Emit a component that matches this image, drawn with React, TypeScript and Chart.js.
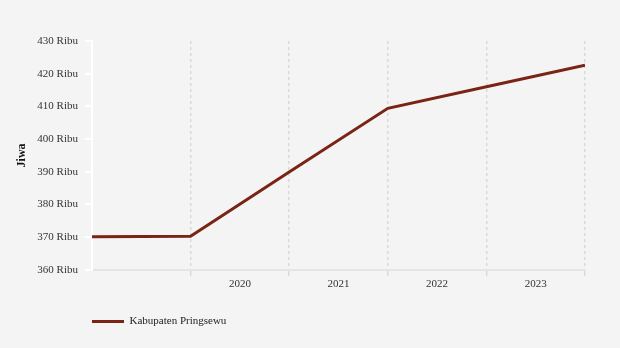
import React, { useEffect, useRef } from "react";
import { Chart, registerables } from "chart.js";

Chart.register(...registerables);

const seriesName = "Kabupaten Pringsewu";
const xPositions = [2019, 2020, 2021, 2022, 2023, 2024];
const values = [370.1, 370.3, 389.9, 409.4, 416.0, 422.6];
const yTicks = [360, 370, 380, 390, 400, 410, 420, 430];
const yearLabels: Record<string, string> = {
  "2020.5": "2020",
  "2021.5": "2021",
  "2022.5": "2022",
  "2023.5": "2023",
};

const FONT = "'Liberation Serif', 'Times New Roman', serif";

const legendShift = {
  id: "legendShift",
  afterLayout(chart: any) {
    if (chart.legend) {
      chart.legend.left = 82;
    }
  },
};

export default function App() {
  const ref = useRef<HTMLCanvasElement | null>(null);

  useEffect(() => {
    document.body.style.margin = "0";
    document.body.style.background = "#f4f4f4";
    const canvas = ref.current!;
    const chart = new Chart(canvas, {
      type: "line",
      data: {
        datasets: [
          {
            label: seriesName,
            data: xPositions.map((x, i) => ({ x, y: values[i] })),
            borderColor: "#7a2416",
            backgroundColor: "#7a2416",
            borderWidth: 3,
            pointRadius: 0,
            pointHoverRadius: 0,
            tension: 0,
            fill: false,
          },
        ],
      },
      options: {
        responsive: false,
        animation: false,
        maintainAspectRatio: false,
        layout: { padding: { top: 41, right: 35, left: 11, bottom: 11 } },
        plugins: {
          tooltip: { enabled: false },
          legend: {
            position: "bottom",
            align: "start",
            labels: {
              boxWidth: 32,
              boxHeight: 0,
              color: "#222",
              font: { family: FONT, size: 11 },
              padding: 10,
            },
          },
        },
        scales: {
          x: {
            type: "linear",
            min: 2019,
            max: 2024,
            afterBuildTicks: (scale: any) => {
              const t = [];
              for (let v = 2019; v <= 2024.001; v += 0.5) t.push({ value: v });
              scale.ticks = t;
            },
            afterFit: (scale: any) => {
              scale.height += 13;
            },
            ticks: {
              autoSkip: false,
              maxRotation: 0,
              color: "#333",
              padding: 2,
              font: { family: FONT, size: 11 },
              callback: (v: any) => yearLabels[String(v)] ?? "",
            },
            grid: {
              color: (ctx: any) =>
                ctx.tick && Number.isInteger(ctx.tick.value) && ctx.tick.value !== 2019
                  ? "#d9d9d9"
                  : "rgba(0,0,0,0)",
              lineWidth: 1.5,
              tickLength: 6,
              drawOnChartArea: true,
            },
            border: { display: true, color: "#e4e4e4", width: 2, dash: [3, 3] },
          },
          y: {
            type: "linear",
            min: 360,
            max: 430,
            afterBuildTicks: (scale: any) => {
              scale.ticks = yTicks.map((v) => ({ value: v }));
            },
            afterFit: (scale: any) => {
              scale.width = 81;
            },
            ticks: {
              color: "#333",
              padding: 7,
              font: { family: FONT, size: 11 },
              callback: (v: any) => `${v} Ribu`,
            },
            grid: {
              drawOnChartArea: false,
              color: "#ffffff",
              lineWidth: 2,
              tickLength: 7,
            },
            border: { display: true, color: "#ffffff", width: 2 },
            title: {
              display: true,
              text: "Jiwa",
              color: "#111",
              font: { family: FONT, size: 12, weight: "bold" },
              padding: { top: 4, bottom: 4 },
            },
          },
        },
      },
      plugins: [legendShift],
    } as any);
    return () => chart.destroy();
  }, []);

  return (
    <div style={{ position: "absolute", left: 0, top: 0, width: 620, height: 348, background: "#f4f4f4" }}>
      <canvas ref={ref} width={620} height={348} style={{ display: "block" }} />
    </div>
  );
}
